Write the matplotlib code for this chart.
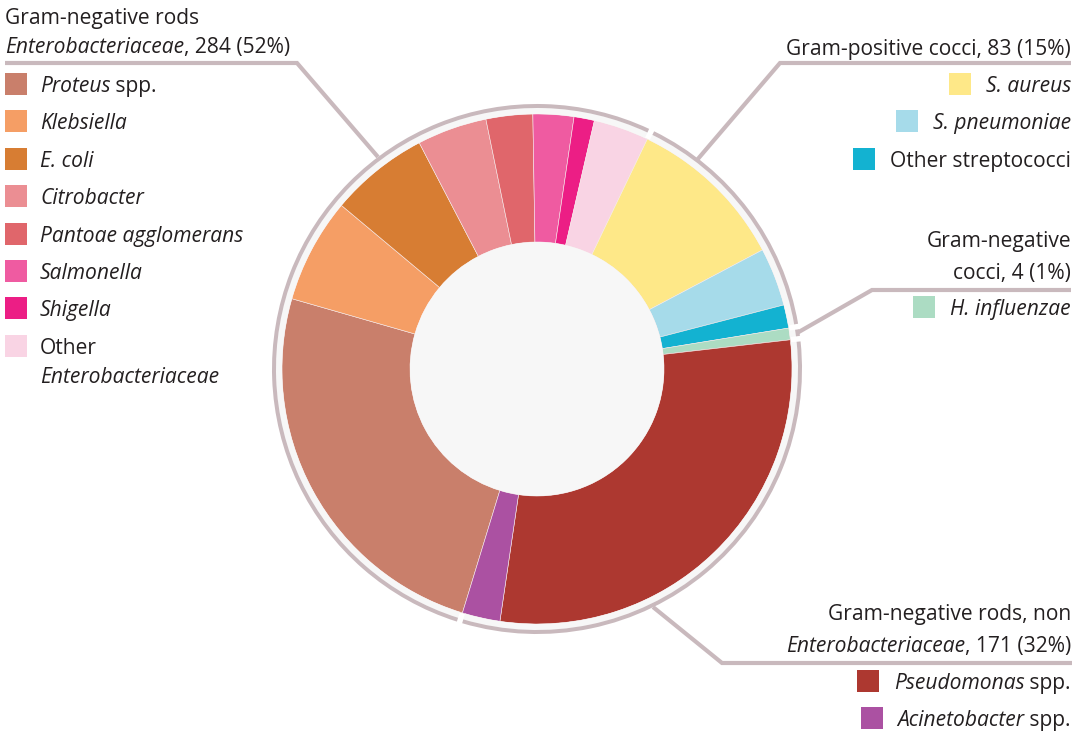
import matplotlib.pyplot as plt
from matplotlib.patches import Wedge, Rectangle, Circle

# isolates per organism, clockwise from the Proteus/Acinetobacter boundary
species = ["Proteus", "Klebsiella", "E. coli", "Citrobacter", "Pantoae agglomerans",
           "Salmonella", "Shigella", "Other Enterobacteriaceae",
           "S. aureus", "S. pneumoniae", "Other streptococci",
           "H. influenzae",
           "Pseudomonas", "Acinetobacter"]
counts = [134, 36, 34, 24, 16, 14, 7, 19,
          55, 20, 8,
          4,
          158, 13]
colors = ["#c97f6b", "#f59e65", "#d77d33", "#eb8e93", "#e0666b", "#ef5ba1", "#ec1e85", "#f9d4e4",
          "#fee888", "#a6dbea", "#13b2d1",
          "#acdcc3",
          "#ad3830", "#ab51a2"]
group_names = ["Enterobacteriaceae", "Gram-positive cocci", "Gram-negative cocci", "non-Enterobacteriaceae"]
group_members = [8, 3, 1, 2]

N = sum(counts)
totals = []
i = 0
for n in group_members:
    totals.append(sum(counts[i:i + n]))
    i += n

def pct(v):
    return f"{v} ({round(100 * v / N)}%)"

W, H = 1081, 731
TXT = "#231f20"
RING = "#c9b9bd"
PALE = "#f7f7f7"
FONT = "Open Sans"
FS = 15.1

fig = plt.figure(figsize=(W / 100, H / 100), dpi=100)
ax = fig.add_axes([0, 0, 1, 1])

cx, cy = 537, H - 369
R, R_IN = 255, 127
START = 253

ax.pie(counts, colors=colors, radius=R, center=(cx, cy), startangle=START,
       counterclock=False, wedgeprops=dict(width=R - R_IN, edgecolor="#f6eaea", linewidth=0.4))
ax.add_patch(Circle((cx, cy), R_IN, facecolor=PALE, edgecolor="none", zorder=3))

# outer arcs, one per group, with small gaps between them
gap = 1.2
c0 = 0
for t in totals:
    a1 = START - 360 * c0 / N
    a2 = START - 360 * (c0 + t) / N
    ax.add_patch(Wedge((cx, cy), R + 6, a2 + gap / 2, a1 - gap / 2, width=6,
                       facecolor=PALE, edgecolor="none"))
    ax.add_patch(Wedge((cx, cy), R + 10, a2 + gap / 2, a1 - gap / 2, width=4,
                       facecolor=RING, edgecolor="none"))
    c0 += t

ax.set_xlim(0, W)
ax.set_ylim(0, H)
ax.axis("off")

# leader lines (image y measured from the top)
leaders = [
    [(5, 63), (297, 63), (378, 157)],
    [(1071, 63), (780, 63), (697, 160)],
    [(1071, 290), (872, 290), (797, 333)],
    [(1072, 663), (722, 663), (653, 607)],
]
for pts in leaders:
    ax.plot([p[0] for p in pts], [H - p[1] for p in pts], color=RING, lw=3,
            solid_capstyle="butt", solid_joinstyle="miter")

renderer = fig.canvas.get_renderer()

def rich(x, y, parts, ha="left"):
    """Draw a line made of (text, italic) parts; y is the baseline from the top."""
    items = []
    for s, it in parts:
        t = ax.text(0, H - y, s, fontsize=FS, family=FONT, color=TXT,
                    style="italic" if it else "normal", va="baseline", ha="left")
        items.append((t, t.get_window_extent(renderer).width))
    total = sum(w for _, w in items)
    xx = x if ha == "left" else x - total
    start = xx
    for t, w in items:
        t.set_x(xx)
        xx += w
    return start

def swatch_left(x, y, color):
    ax.add_patch(Rectangle((x, H - y - 11), 22, 22, facecolor=color, edgecolor="none"))

# left block: Enterobacteriaceae
rich(5, 24, [("Gram-negative rods", False)])
rich(5, 53, [("Enterobacteriaceae", True), (", " + pct(totals[0]), False)])
left_rows = [
    [("Proteus", True), (" spp.", False)],
    [("Klebsiella", True)],
    [("E. coli", True)],
    [("Citrobacter", True)],
    [("Pantoae agglomerans", True)],
    [("Salmonella", True)],
    [("Shigella", True)],
    [("Other", False)],
]
for k, parts in enumerate(left_rows):
    yc = 84 + k * 37.4
    swatch_left(5, yc, colors[k])
    rich(40, yc + 8, parts)
rich(40, 383, [("Enterobacteriaceae", True)])

def right_row(yc, parts, color):
    x0 = rich(1071, yc + 8, parts, ha="right")
    swatch_left(x0 - 37, yc, color)

# Gram-positive cocci
rich(1071, 55, [("Gram-positive cocci, " + pct(totals[1]), False)], ha="right")
right_row(84, [("S. aureus", True)], colors[8])
right_row(121, [("S. pneumoniae", True)], colors[9])
right_row(159, [("Other streptococci", False)], colors[10])

# Gram-negative cocci
rich(1071, 247, [("Gram-negative", False)], ha="right")
rich(1071, 279, [("cocci, " + pct(totals[2]), False)], ha="right")
right_row(307, [("H. influenzae", True)], colors[11])

# non-Enterobacteriaceae
rich(1071, 620, [("Gram-negative rods, non", False)], ha="right")
rich(1071, 652, [("Enterobacteriaceae", True), (", " + pct(totals[3]), False)], ha="right")
right_row(681, [("Pseudomonas", True), (" spp.", False)], colors[12])
right_row(718, [("Acinetobacter", True), (" spp.", False)], colors[13])

fig.savefig("out.png", dpi=100, facecolor="white")
